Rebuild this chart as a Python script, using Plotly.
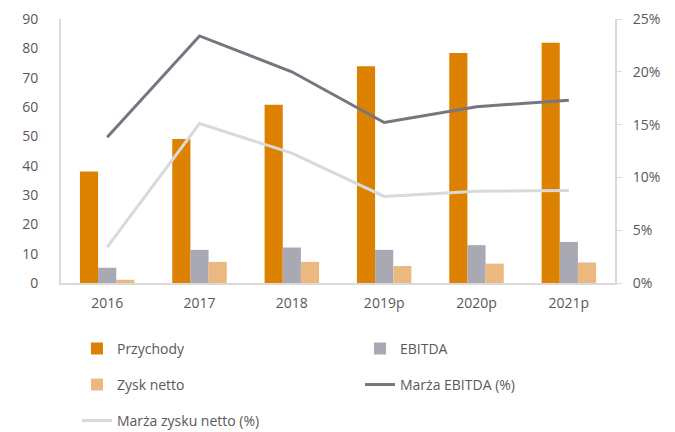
import plotly.graph_objects as go

years = ['2016', '2017', '2018', '2019p', '2020p', '2021p']
przychody = [38.0, 49.1, 60.8, 73.9, 78.4, 81.9]
ebitda = [5.2, 11.3, 12.1, 11.3, 12.9, 14.0]
zysk_netto = [1.1, 7.2, 7.2, 5.8, 6.6, 7.0]
marza_ebitda = [0.138, 0.234, 0.200, 0.152, 0.167, 0.173]
marza_netto = [0.034, 0.151, 0.123, 0.082, 0.087, 0.0875]

text_color = '#595959'
grid_color = '#D9D9D9'

fig = go.Figure()
fig.add_trace(go.Bar(x=years, y=przychody, name='Przychody',
                     marker=dict(color='#DD8200', line_width=0), legend='legend'))
fig.add_trace(go.Bar(x=years, y=ebitda, name='EBITDA',
                     marker=dict(color='#A9A9B3', line_width=0), legend='legend2'))
fig.add_trace(go.Bar(x=years, y=zysk_netto, name='Zysk netto',
                     marker=dict(color='#EBB97F', line_width=0), legend='legend3'))
fig.add_trace(go.Scatter(x=years, y=marza_ebitda, name='Marża EBITDA (%)', mode='lines',
                         line=dict(color='#767681', width=3), yaxis='y2', legend='legend4'))
fig.add_trace(go.Scatter(x=years, y=marza_netto, name='Marża zysku netto (%)', mode='lines',
                         line=dict(color='#D9D9D9', width=3), yaxis='y2', legend='legend5'))

# one legend per entry so the rows/columns sit where the original has them
leg = dict(orientation='h', xanchor='left', yanchor='middle', xref='container',
           yref='container', itemwidth=30, bgcolor='rgba(0,0,0,0)',
           font=dict(size=14, color=text_color), visible=True)
col1, col2 = 0.1034, 0.5277
row1, row2, row3 = 0.196, 0.111, 0.026

# page body adds an 8px offset, so the figure is 8px smaller than the window
fig.update_layout(
    width=667, height=424,
    margin=dict(l=53, r=60, t=11, b=149, autoexpand=False),
    paper_bgcolor='white', plot_bgcolor='white',
    font=dict(family='Open Sans, Calibri, sans-serif', size=14, color=text_color),
    showlegend=True,
    barmode='group', bargap=0.41, bargroupgap=0,
    xaxis=dict(showgrid=False, showline=True, linecolor=grid_color, linewidth=2,
               ticks='', ticklabelstandoff=6, automargin=False),
    yaxis=dict(range=[0, 90], dtick=10, showgrid=False, showline=True,
               linecolor=grid_color, linewidth=2, ticks='', ticklabelstandoff=18,
               zeroline=False, automargin=False),
    yaxis2=dict(range=[0, 0.25], dtick=0.05, tickformat='.0%', overlaying='y',
                side='right', showgrid=False, showline=True, linecolor=grid_color,
                linewidth=2, ticks='outside', ticklen=5, tickcolor=grid_color,
                ticklabelstandoff=8, zeroline=False, automargin=False),
    legend=dict(leg, x=col1, y=row1),
    legend2=dict(leg, x=col2, y=row1),
    legend3=dict(leg, x=col1, y=row2),
    legend4=dict(leg, x=col2, y=row2),
    legend5=dict(leg, x=col1, y=row3),
)

fig.write_html("out.html")
